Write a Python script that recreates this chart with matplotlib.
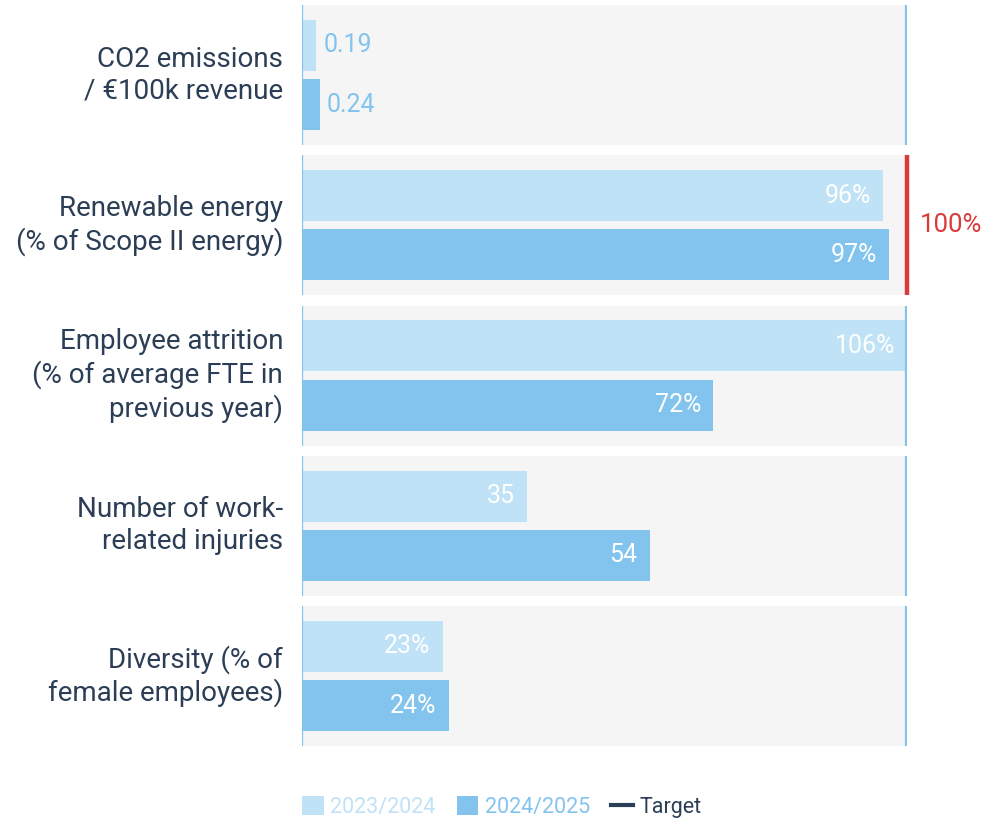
import matplotlib.pyplot as plt
from matplotlib.patches import Patch
from matplotlib.lines import Line2D

plt.rcParams['font.family'] = ['Roboto', 'DejaVu Sans']

# KPI data, one panel per metric
categories = ['CO2 emissions\n/ €100k revenue',
              'Renewable energy\n(% of Scope II energy)',
              'Employee attrition\n(% of average FTE in\nprevious year)',
              'Number of work-\nrelated injuries',
              'Diversity (% of\nfemale employees)']
prev_year = [0.19, 96, 106, 35, 23]
curr_year = [0.24, 97, 72, 54, 24]
prev_labels = ['0.19', '96%', '106%', '35', '23%']
curr_labels = ['0.24', '97%', '72%', '54', '24%']
scale_max = [8.0, 100, 106, 94, 99]
target = [None, 100, None, None, None]
target_labels = [None, '100%', None, None, None]
series = ['2023/2024', '2024/2025', 'Target']

LIGHT = '#c0e2f6'
DARK = '#82c4ee'
EDGE = '#82c4ee'
GREY = '#f5f5f5'
RED = '#d93a3a'
NAVY = '#2c3e55'

W, H = 984, 818
fig = plt.figure(figsize=(W / 100, H / 100), dpi=100)

left, right = 302, 907
for i, cat in enumerate(categories):
    top = 5 + 150.25 * i
    ax = fig.add_axes([left / W, 1 - (top + 140) / H, (right - left) / W, 140 / H])
    ax.set_facecolor(GREY)
    for s in ax.spines.values():
        s.set_visible(False)
    ax.set_xticks([])
    ax.set_yticks([])
    ax.set_xlim(0, scale_max[i])
    ax.set_ylim(1.686, -0.686)

    ax.barh([0, 1], [prev_year[i], curr_year[i]], height=0.864,
            color=[LIGHT, DARK], zorder=2)

    for y, v, lab in [(0, prev_year[i], prev_labels[i]), (1, curr_year[i], curr_labels[i])]:
        if v / scale_max[i] > 0.1:
            ax.annotate(lab, (v, y), xytext=(-8.6, 0), textcoords='offset points',
                        ha='right', va='center', color='white', fontsize=18,
                        zorder=3)
        else:
            ax.annotate(lab, (v, y), xytext=(5, 0), textcoords='offset points',
                        ha='left', va='center', color=DARK, fontsize=18,
                        zorder=3)

    ax.axvline(0, color=EDGE, lw=1.6, zorder=4, solid_capstyle='butt')
    if target[i] is not None:
        ax.axvline(target[i], color=RED, lw=3.2, zorder=4, clip_on=False,
                   solid_capstyle='butt')
        ax.annotate(target_labels[i], (target[i], 0.5), xytext=(9.5, 0),
                    textcoords='offset points', ha='left', va='center',
                    color=RED, fontsize=18.5, annotation_clip=False)
    else:
        ax.axvline(scale_max[i] * 0.9985, color=EDGE, lw=1.6, zorder=4,
                   solid_capstyle='butt')

    fig.text(283 / W, 1 - (top + 70) / H, cat, ha='right', va='center',
             color=NAVY, fontsize=20, linespacing=1.22)

handles = [Patch(facecolor=LIGHT, edgecolor='none'),
           Patch(facecolor=DARK, edgecolor='none'),
           Line2D([0], [0], color=NAVY, lw=3)]
fig.legend(handles, series, loc='center left', bbox_to_anchor=(302 / W, 1 - 807 / H),
           ncol=3, frameon=False, fontsize=15.5, handlelength=1.0,
           handleheight=0.95, handletextpad=0.3, columnspacing=1.0,
           borderpad=0, borderaxespad=0,
           labelcolor=[LIGHT, DARK, NAVY])

fig.savefig('out.png', dpi=100, facecolor='white')
